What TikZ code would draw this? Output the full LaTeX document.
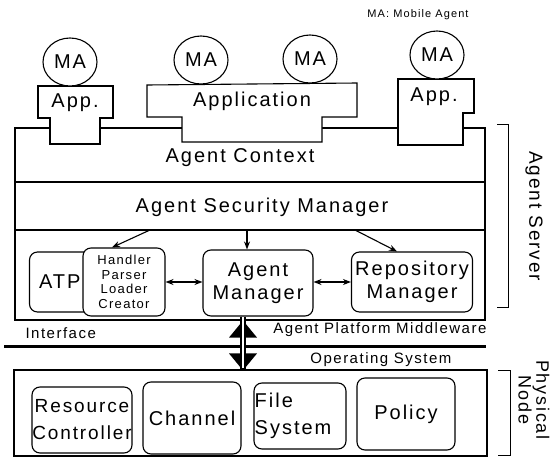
\documentclass[tikz,border=0pt]{standalone}
\usepackage{fontspec}
\setmainfont{Liberation Sans}[LetterSpace=10]
\usetikzlibrary{arrows.meta,shapes.geometric,calc}

\begin{document}
\begin{tikzpicture}[x=1pt,y=-1pt,line width=1.1pt,
  big/.style={inner sep=0pt,font=\fontsize{20}{23}\selectfont},
  mid/.style={inner sep=0pt,font=\fontsize{15}{17}\selectfont},
  tiny/.style={inner sep=0pt,font=\fontsize{11}{13}\selectfont},
  agent/.style={draw,fill=white,ellipse,minimum width=54pt,minimum height=48pt,
    inner sep=0pt,font=\fontsize{20}{22}\selectfont},
  rbox/.style={draw,fill=white,rounded corners=8pt,inner sep=0pt,align=center,
    font=\fontsize{20}{23}\selectfont},
  layer/.style={draw,inner sep=0pt},
  arr/.style={-{Stealth[length=8pt,width=6pt]}},
  darr/.style={{Stealth[length=8pt,width=6pt]}-{Stealth[length=8pt,width=6pt]}},
  bracket/.style={line width=0.8pt},
]
\useasboundingbox (0,0) rectangle (554,471);

% agent server frame and its layers
\node[layer,minimum width=470pt,minimum height=192pt] (server) at (250,224) {};
\draw (server.west |- 0,182) coordinate (l1w) -- (l1w -| server.east);
\draw (server.west |- 0,230) coordinate (l2w) -- (l2w -| server.east);
\node[big] (ctx) at (240,158) {Agent Context};
\node[big] (sec) at (262,207) {Agent Security Manager};

% applications standing on the server
\draw[fill=white] (38,86) -- (113,86) -- (113,118) -- (100,118) -- (100,144)
  -- (50,144) -- (50,118) -- (38,118) -- cycle;
\draw[fill=white] (147,85) -- (357,83) -- (357,117) -- (322,117) -- (322,142)
  -- (182,142) -- (182,117) -- (147,117) -- cycle;
\draw[fill=white] (398,79) -- (474,79) -- (474,113) -- (463,113) -- (463,145)
  -- (398,145) -- cycle;
\node[big] (app1) at (75,103) {App.};
\node[big] (app2) at (252,101) {Application};
\node[big] (app3) at (434,97) {App.};

% mobile agents
\node[agent] (ma1) at (70,62) {MA};
\node[agent] (ma2) at (201,60) {MA};
\node[agent] (ma3) at (310,59) {MA};
\node[agent] (ma4) at (437,55) {MA};
\node[tiny] (legend) at (418,15) {MA: Mobile Agent};

% platform components
\node[rbox,minimum width=65pt,minimum height=60pt,text width=50pt,align=left]
  (atp) at (62,282) {\hspace*{2pt}ATP};
\node[rbox,minimum width=82pt,minimum height=68pt,
  font=\fontsize{13}{14.5}\selectfont] (hpl) at (124,282)
  {Handler\\Parser\\Loader\\Creator};
\node[rbox,minimum width=110pt,minimum height=66pt] (am) at (258,283)
  {Agent\\Manager};
\node[rbox,minimum width=121pt,minimum height=60pt] (rp) at (412,282)
  {Repository\\Manager};

\coordinate (s1) at (150,230);
\coordinate (s2) at (247,230);
\coordinate (s3) at (355,230);
\draw[arr] (s1) -- ([xshift=-12pt]hpl.north);
\draw[arr] (s2) -- (s2 |- am.north);
\draw[arr] (s3) -- ([xshift=-15pt]rp.north);
\draw[darr] (hpl.east) -- (hpl.east -| am.west);
\draw[darr] (am.east |- rp.west) -- (rp.west);

% interface line and labels
\node[mid,anchor=west] (iface) at (25,333) {Interface};
\node[mid,anchor=east] (apm) at (487,330) {Agent Platform Middleware};
\coordinate (bl) at (4,346);
\coordinate (br) at (486,346);
\draw[line width=3pt] (bl) -- (br);
\node[mid,anchor=east] (os) at (452,360) {Operating System};

% physical node
\node[layer,minimum width=473pt,minimum height=86pt] (phys) at (250.5,413) {};
\node[rbox,minimum width=100pt,minimum height=66pt,font=\fontsize{19}{27}\selectfont]
  (rc) at (82,420) {Resource\\Controller};
\node[rbox,minimum width=98pt,minimum height=72pt] (ch) at (192,418) {Channel};
\node[rbox,minimum width=92pt,minimum height=66pt,align=left,
  font=\fontsize{20}{27}\selectfont] (fs) at (300,416)
  {\hspace*{-14pt}File\\\hspace*{-14pt}System};
\node[rbox,minimum width=98pt,minimum height=72pt] (po) at (406,414) {Policy};

% access between the manager and the physical node
\coordinate (ua) at ([xshift=-15pt]am.south);
\coordinate (da) at (ua |- phys.north);
\fill ($(ua)+(0,4)$) -- ($(ua)+(14,21)$) -- ($(ua)+(-14,21)$) -- cycle;
\fill ($(da)+(-14,-16)$) -- ($(da)+(14,-16)$) -- ($(da)+(0,1)$) -- cycle;
\fill[white] ($(ua)+(-1,2)$) rectangle ($(da)+(1,-1)$);
\draw ($(ua)+(-2,0)$) -- ($(da)+(-2,0)$);
\draw ($(ua)+(2,0)$) -- ($(da)+(2,0)$);

% side brackets
\draw[bracket] (497,124) -- (508,124) -- (508,307) -- (497,307);
\node[big,rotate=-90,font=\fontsize{19}{21}\selectfont] (srv) at (534,216)
  {Agent Server};
\draw[bracket] (498,370) -- (510,370) -- (510,455) -- (498,455);
\node[big,rotate=-90,align=center,font=\fontsize{18}{15}\selectfont] (pn)
  at (534,400) {Physical\\Node};
\end{tikzpicture}
\end{document}
